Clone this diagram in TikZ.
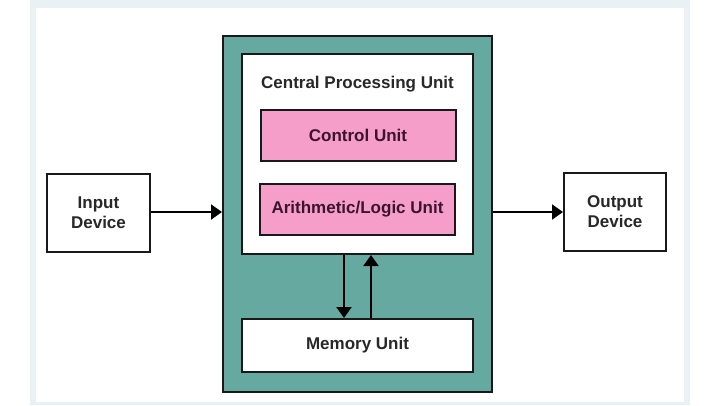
\documentclass[tikz,border=0pt]{standalone}
\usepackage{fontspec}
\setmainfont{Liberation Sans}
\usetikzlibrary{arrows.meta,calc}
\definecolor{teal1}{RGB}{102,169,160}
\definecolor{pink1}{RGB}{245,158,201}
\definecolor{panel}{RGB}{233,241,244}
\definecolor{txt}{RGB}{40,40,40}
\definecolor{txtpink}{RGB}{60,20,45}
\tikzset{
  box/.style={draw=black!90,line width=2pt,inner sep=0pt,align=center,
    font=\fontsize{17}{20}\selectfont\bfseries,text=txt},
  pinkbox/.style={box,fill=pink1,text=txtpink},
  arr/.style={line width=2pt,-{Triangle[length=11pt,width=15pt]}},
}
\begin{document}
\begin{tikzpicture}[x=1pt,y=-1pt]
\useasboundingbox (0,0) rectangle (720,405);
\fill[white] (0,0) rectangle (720,405);
\fill[panel] (30,0) rectangle (690,405);
\fill[white] (36,8) rectangle (684,402);
\node[box,fill=teal1,minimum width=269pt,minimum height=356pt] (teal) at (357.5,214) {};
\node[box,fill=white,minimum width=231pt,minimum height=200pt] (cpu) at (357.5,154) {};
\node[font=\fontsize{17}{20}\selectfont\bfseries,text=txt,anchor=base] (cputitle) at (357.5,88) {Central Processing Unit};
\node[pinkbox,minimum width=195pt,minimum height=51pt] (cu) at (358,135.5) {Control Unit};
\node[pinkbox,minimum width=195pt,minimum height=51pt] (alu) at (357.5,209) {Arithmetic/Logic Unit};
\node[box,fill=white,minimum width=231pt,minimum height=53pt] (mem) at (357.5,345.5) {Memory Unit};
\node[box,fill=white,minimum width=103pt,minimum height=78pt] (in) at (98.5,212.5) {Input\\Device};
\node[box,fill=white,minimum width=102pt,minimum height=78pt] (out) at (615,212) {Output\\Device};
\coordinate (dx) at (344,0);
\coordinate (ux) at (371,0);
\draw[arr] (cpu.south -| dx) -- (mem.north -| dx);
\draw[arr] (mem.north -| ux) -- (cpu.south -| ux);
\coordinate (ly) at (0,212);
\draw[arr] (in.east |- ly) -- (teal.west |- ly);
\draw[arr] (teal.east |- ly) -- (out.west |- ly);
\end{tikzpicture}
\end{document}
